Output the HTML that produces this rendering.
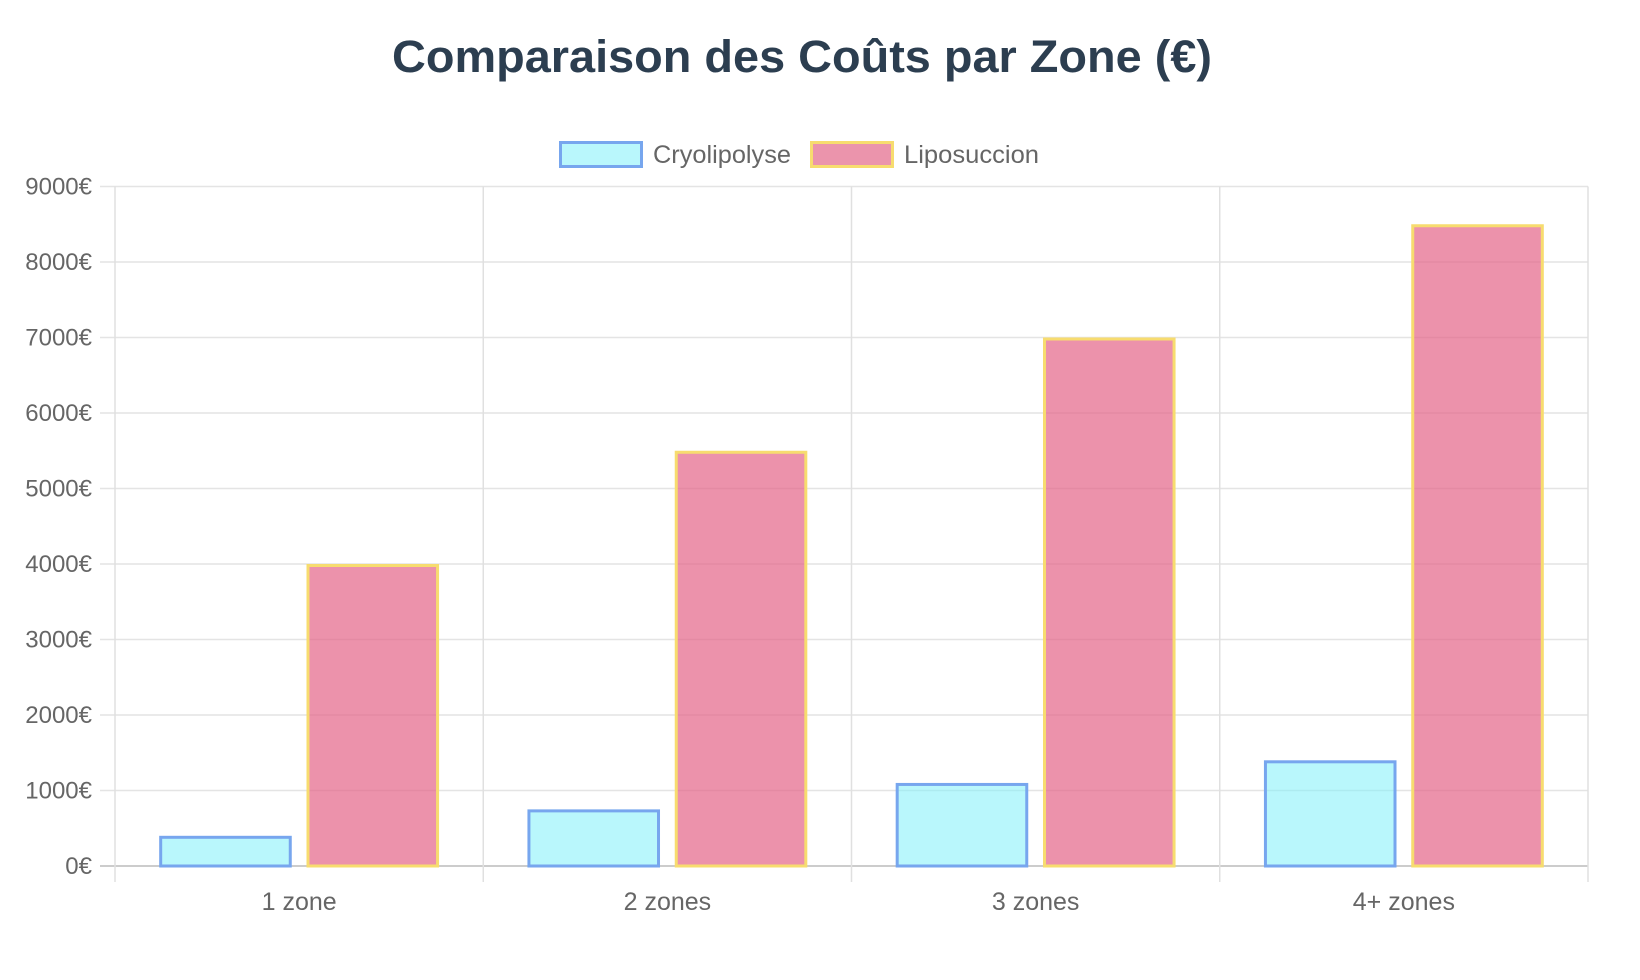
<!DOCTYPE html>
<html><head><meta charset="utf-8"><style>
html,body{margin:0;padding:0;background:#fff;}
svg{display:block;font-family:"Liberation Sans",sans-serif;}
</style></head><body>
<svg id="chart" width="1640" height="980" xmlns="http://www.w3.org/2000/svg">
<text x="802" y="72" text-anchor="middle" font-size="45" font-weight="bold" fill="#2c3e50" textLength="820" lengthAdjust="spacingAndGlyphs">Comparaison des Coûts par Zone (€)</text>
<g>
<g>
<rect x="560.5" y="142.5" width="81" height="24" fill="rgba(128,240,250,0.55)" stroke="#77a6ee" stroke-width="3"/>
<text x="653" y="163" font-size="25" fill="#666" textLength="138" lengthAdjust="spacingAndGlyphs">Cryolipolyse</text></g>
<g>
<rect x="811.5" y="142.5" width="81" height="24" fill="#eb94ac" stroke="#f7dc6f" stroke-width="3"/>
<text x="904" y="163" font-size="25" fill="#666" textLength="135" lengthAdjust="spacingAndGlyphs">Liposuccion</text></g>
</g>
<g id="grid"></g>
<g id="bars"></g>
<g id="axes"></g>
</svg>
<script>
const categories = ["1 zone","2 zones","3 zones","4+ zones"];
const cryoValues = [400,750,1100,1400];
const lipoValues = [4000,5500,7000,8500];
const yTicks = [0,1000,2000,3000,4000,5000,6000,7000,8000,9000];
const NS="http://www.w3.org/2000/svg";
const L=115,R=1588,T=186.5,B=866,YMAX=9000;
const catW=(R-L)/categories.length;
function y(v){return B-(v/YMAX)*(B-T);}
function xCat(i){return L+i*catW;}
function mk(tag,attrs,parent){const e=document.createElementNS(NS,tag);for(const k in attrs)e.setAttribute(k,attrs[k]);parent.appendChild(e);return e;}
const grid=document.getElementById('grid'),bars=document.getElementById('bars'),axes=document.getElementById('axes');
yTicks.forEach(t=>{
  const ln=mk('line',{x1:100,x2:R,y1:y(t),y2:y(t),stroke:t===0?'#ccc':'#e4e4e4','stroke-width':t===0?2:1.5},grid);
  
  
  const tx=mk('text',{x:92,y:y(t)+8,'text-anchor':'end','font-size':24,fill:'#666'},axes);
  tx.textContent=t+'€';
  
  
});
for(let i=0;i<=categories.length;i++){
  const ln=mk('line',{x1:xCat(i),x2:xCat(i),y1:T,y2:882,stroke:'#e0e0e0','stroke-width':1.5},grid);
  
  
}
const groupW=catW*0.8,barW=groupW/2*0.9;
categories.forEach((c,i)=>{
  const g0=xCat(i)+catW*0.1;
  const cx=g0+(groupW/2-barW)/2, lx=g0+groupW/2+(groupW/2-barW)/2;
  const b1=mk('rect',{x:cx+1.5,y:y(cryoValues[i])+1.5,width:barW-3,height:B-y(cryoValues[i])-1.5,fill:'rgba(128,240,250,0.55)',stroke:'#77a6ee','stroke-width':3},bars);
  
  
  const b2=mk('rect',{x:lx+1.5,y:y(lipoValues[i])+1.5,width:barW-3,height:B-y(lipoValues[i])-1.5,fill:'rgba(228,100,135,0.7)',stroke:'#f7dc6f','stroke-width':3},bars);
  
  
  const tx=mk('text',{x:xCat(i)+catW/2,y:910,'text-anchor':'middle','font-size':25,fill:'#666'},axes);
  tx.textContent=c;
  
  
});
</script>
</body></html>
